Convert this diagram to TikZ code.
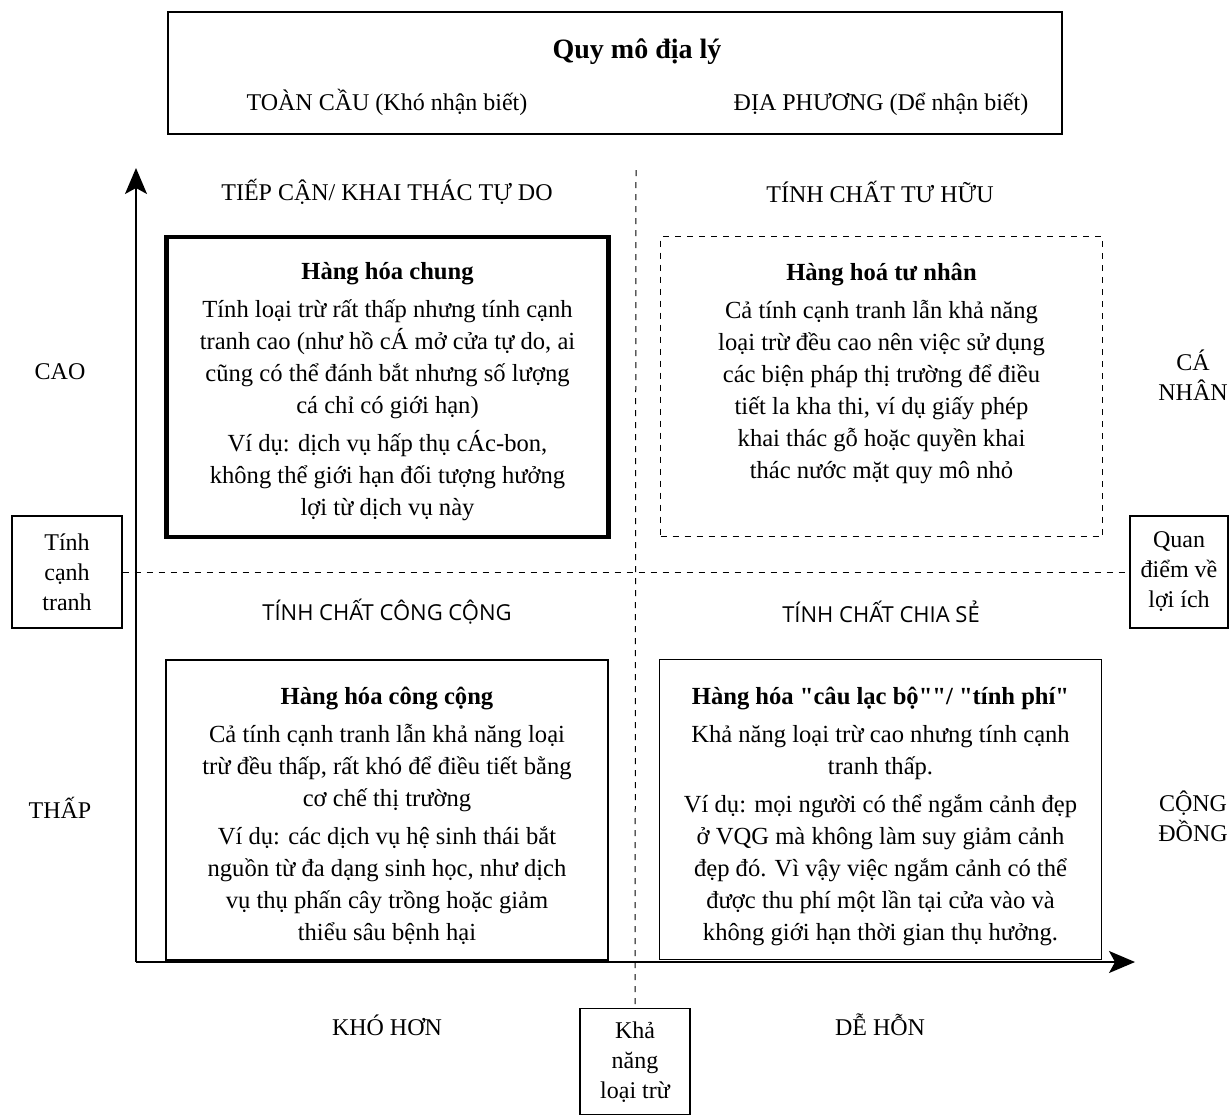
\documentclass[tikz,border=0pt]{standalone}
\usepackage{fontspec}
\setmainfont{Liberation Serif}[Ligatures=TeXOff]
\newfontfamily\headfont{Open Sans}
\usetikzlibrary{arrows.meta, positioning}

\begin{document}
\begin{tikzpicture}[x=0.5pt, y=-0.5pt,
  every node/.style={font=\fontsize{12}{16}\selectfont},
  goodsbox/.style={draw, line width=0.8pt, minimum width=221pt, minimum height=150pt, inner sep=0pt},
  goodstext/.style={align=center, inner sep=0pt, font=\fontsize{12.3}{16}\selectfont},
  sidebox/.style={draw, line width=0.7pt, align=center, inner sep=0pt, font=\fontsize{12}{15}\selectfont},
  quadlabel/.style={font=\headfont\fontsize{11}{13}\selectfont},
  divider/.style={line width=0.5pt, dash pattern=on 3pt off 3pt},
  axis/.style={line width=0.8pt, -{Stealth[length=13pt, width=11pt, inset=3pt]}}]

\useasboundingbox (0,0) rectangle (1229,1115);

%scale box
\node[draw, line width=0.8pt, minimum width=447pt, minimum height=61pt] (scale) at (615,73) {};
\node[font=\bfseries\fontsize{14}{16}\selectfont] (scaletitle) at (637,52) {Quy mô địa lý};
\node[anchor=base] (global) at (387,110) {TOÀN CẦU (Khó nhận biết)};
\node[anchor=base] (local) at (881,110) {ĐỊA PHƯƠNG (Dể nhận biết)};

%axes
\coordinate (o) at (136,962);
\coordinate (ytip) at (136,168);
\coordinate (xtip) at (1135,962);
\draw[axis] (o) -- (ytip);
\draw[axis] (o) -- (xtip);

%side boxes
\node[sidebox, minimum width=55pt, minimum height=56pt] (rival) at (67,572) {Tính\\cạnh\\tranh};
\node[sidebox, minimum width=49pt, minimum height=56pt] (benefit) at (1179,572) {Quan\\điểm về\\lợi ích};
\node[sidebox, minimum width=55pt, minimum height=53pt, anchor=north] (excl) at (635,1008) {Khả\\năng\\loại trừ};

%dividers
\coordinate (vtop) at (636,170);
\draw[divider] (vtop) -- (excl.north);
\draw[divider] (rival.east) -- (benefit.west);

%quadrant labels
\node (open) at (387,192) {TIẾP CẬN/ KHAI THÁC TỰ DO};
\node (private) at (880,192) {TÍNH CHẤT TƯ HỮU};
\node[quadlabel] (public) at (387,612) {TÍNH CHẤT CÔNG CỘNG};
\node[quadlabel] (shared) at (881,612) {TÍNH CHẤT CHIA SẺ};

%axis labels
\node (high) at (60,372) {CAO};
\node (low) at (60,808) {THẤP};
\node[align=center, font=\fontsize{12}{15}\selectfont] (indiv) at (1193,375) {CÁ\\NHÂN};
\node[align=center, font=\fontsize{12}{15}\selectfont] (commun) at (1193,816) {CỘNG\\ĐỒNG};
\node (harder) at (387,1025) {KHÓ HƠN};
\node (easier) at (880,1025) {DỄ HỖN};

%box1
\node[goodsbox, line width=2.2pt] (box1) at (387.5,387) {};
\node[goodstext, below=13.5pt of box1.north] (text1) {\textbf{Hàng hóa chung}\\[3pt]
  Tính loại trừ rất thấp nhưng tính cạnh\\tranh cao (như hồ cÁ mở cửa tự do, ai\\
  cũng có thể đánh bắt nhưng số lượng\\cá chỉ có giới hạn)\\[3pt]
  Ví dụ: dịch vụ hấp thụ cÁc-bon,\\không thể giới hạn đối tượng hưởng\\lợi từ dịch vụ này};

%box2
\node[goodsbox, divider, line width=0.7pt] (box2) at (881.5,386.5) {};
\node[goodstext, below=13.5pt of box2.north] (text2) {\textbf{Hàng hoá tư nhân}\\[3pt]
  Cả tính cạnh tranh lẫn khả năng\\loại trừ đều cao nên việc sử dụng\\
  các biện pháp thị trường để điều\\tiết la kha thi, ví dụ giấy phép\\
  khai thác gỗ hoặc quyền khai\\thác nước mặt quy mô nhỏ};

%box3
\node[goodsbox] (box3) at (387,810) {};
\node[goodstext, below=14pt of box3.north] (text3) {\textbf{Hàng hóa công cộng}\\[3pt]
  Cả tính cạnh tranh lẫn khả năng loại\\trừ đều thấp, rất khó để điều tiết bằng\\
  cơ chế thị trường\\[3pt]
  Ví dụ: các dịch vụ hệ sinh thái bắt\\nguồn từ đa dạng sinh học, như dịch\\
  vụ thụ phấn cây trồng hoặc giảm\\thiểu sâu bệnh hại};

%box4
\node[goodsbox] (box4) at (880.5,809.5) {};
\node[goodstext, below=14pt of box4.north] (text4) {\textbf{Hàng hóa "câu lạc bộ""/ "tính phí"}\\[3pt]
  Khả năng loại trừ cao nhưng tính cạnh\\tranh thấp.\\[3pt]
  Ví dụ: mọi người có thể ngắm cảnh đẹp\\ở VQG mà không làm suy giảm cảnh\\
  đẹp đó. Vì vậy việc ngắm cảnh có thể\\được thu phí một lần tại cửa vào và\\
  không giới hạn thời gian thụ hưởng.};

\end{tikzpicture}
\end{document}
